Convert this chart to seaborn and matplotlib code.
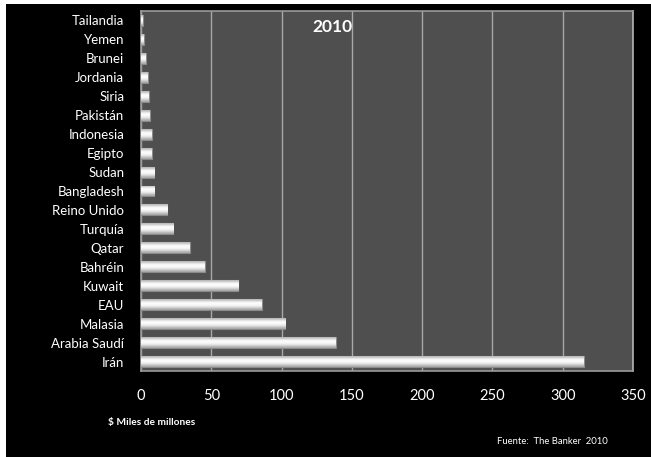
import numpy as np
import pandas as pd
import seaborn as sns
import matplotlib.pyplot as plt
from matplotlib.patches import Rectangle

countries = ["Tailandia", "Yemen", "Brunei", "Jordania", "Siria", "Pakistán",
             "Indonesia", "Egipto", "Sudan", "Bangladesh", "Reino Unido", "Turquía",
             "Qatar", "Bahréin", "Kuwait", "EAU", "Malasia", "Arabia Saudí", "Irán"]
assets = [1.2, 2.1, 3.3, 4.7, 5.6, 6.3, 7.6, 7.5, 9.6, 9.6, 18.7, 23.0,
          34.6, 45.2, 69.2, 85.8, 102.6, 138.4, 315.0]
xticks = [0, 50, 100, 150, 200, 250, 300, 350]

df = pd.DataFrame({"pais": countries, "valor": assets})

sns.set_style("white")
plt.rcParams["font.family"] = ["Lato", "DejaVu Sans"]

fig = plt.figure(figsize=(6.51, 4.57), dpi=100, facecolor="white")
# black slide background with a thin white margin on the left/top
fig.patches.append(Rectangle((6 / 651, 0), 1, 1 - 4 / 457, transform=fig.transFigure,
                             facecolor="black", edgecolor="none", zorder=-10))
ax = fig.add_axes([141 / 651, 1 - 371 / 457, 492 / 651, 360 / 457])
ax.set_facecolor("#4f4f4f")

sns.barplot(data=df, x="valor", y="pais", orient="h", ax=ax, width=0.58,
            color="#f0f0f0", edgecolor="#8a8a8a", linewidth=0.8, zorder=3)

# shaded "cylinder" look on each bar
grad = np.array([0.72, 0.9, 1.0, 0.98, 0.93, 0.82, 0.66]).reshape(-1, 1)
for p in ax.patches:
    x0, y0 = p.get_x(), p.get_y()
    w, h = p.get_width(), p.get_height()
    im = ax.imshow(grad, cmap="gray", vmin=0, vmax=1, aspect="auto",
                   extent=(x0, x0 + w, y0 + h, y0), zorder=3.5, interpolation="bicubic")
    im.set_clip_path(p)

ax.set_xlim(0, 350)
ax.set_ylim(len(countries) - 0.5, -0.5)
ax.set_xticks(xticks)
ax.set_xticklabels([str(t) for t in xticks])
ax.grid(axis="x", color="#a8a8a8", linewidth=1, zorder=1)
ax.grid(axis="y", visible=False)
ax.set_axisbelow(True)
for s in ax.spines.values():
    s.set_color("#9a9a9a")
    s.set_linewidth(1.2)
ax.spines["right"].set_color("#b4b4b4")

ax.tick_params(axis="y", length=0, pad=12, colors="white", labelsize=9.5)
ax.tick_params(axis="x", length=0, pad=13, colors="white", labelsize=10.5)
ax.set_xlabel("")
ax.set_ylabel("")

ax.text(0.39, 0.955, "2010", transform=ax.transAxes, color="white",
        fontsize=12.5, fontweight="bold", ha="center", va="center")

fig.text(108 / 651, 1 - 422 / 457, "$ Miles de millones", color="white",
         fontsize=7.3, fontweight="bold", ha="left", va="center")
fig.text(497 / 651, 1 - 442 / 457, "Fuente:  The Banker  2010", color="white",
         fontsize=6.8, ha="left", va="center")

fig.savefig("out.png", dpi=100, facecolor=fig.get_facecolor())
